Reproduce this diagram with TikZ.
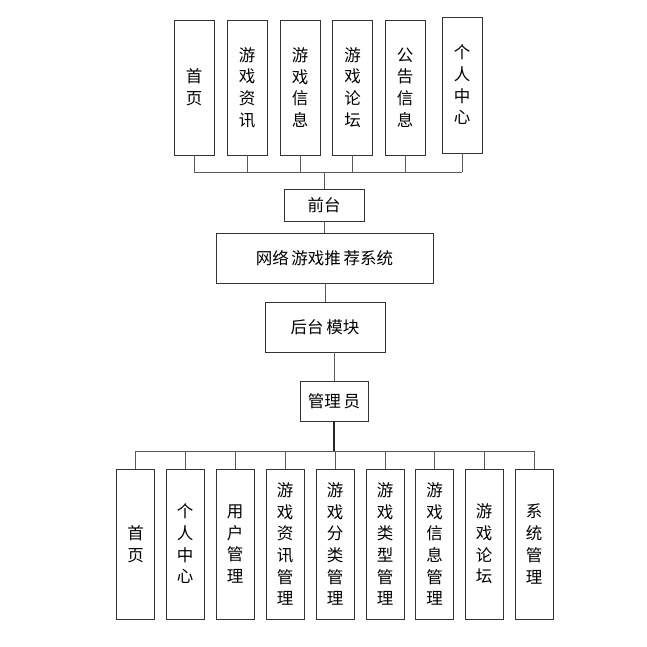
\documentclass[tikz,border=0pt]{standalone}
\usepackage{fontspec}
\setmainfont{Noto Sans CJK SC}
\begin{document}
\begin{tikzpicture}[x=1pt,y=-1pt,
  box/.style={draw=black!80, line width=0.9pt, fill=white, inner sep=0pt, text=black, font=\fontsize{16.5}{21.7}\selectfont},
  vbox/.style={box, minimum width=40pt, text width=20pt, align=center},
  hbox/.style={box, minimum height=32pt},
  link/.style={draw=black!65, line width=0.8pt}]
\useasboundingbox (0,0) rectangle (647,647);
% top row
\node[vbox, minimum height=135pt] (t1) at (194,87.5) {首\\页};
\node[vbox, minimum height=135pt] (t2) at (247,87.5) {游\\戏\\资\\讯};
\node[vbox, minimum height=135pt] (t3) at (300,87.5) {游\\戏\\信\\息};
\node[vbox, minimum height=135pt] (t4) at (352.5,87.5) {游\\戏\\论\\坛};
\node[vbox, minimum height=135pt] (t5) at (405,87.5) {公\\告\\信\\息};
\node[vbox, minimum height=136pt] (t6) at (462,85) {个\\人\\中\\心};
\coordinate (topbus) at (325,172);
% middle
\node[hbox, minimum width=80pt] (qt) at (324,205) {前台};
\node[box, minimum width=217pt, minimum height=50pt] (sys) at (324.5,258) {网络\,游戏推\,荐系统};
\node[box, minimum width=120pt, minimum height=50pt] (hm) at (325,327) {后台\,模块};
\node[box, minimum width=68pt, minimum height=40pt] (gl) at (334,401) {管理\,员};
\coordinate (botbus) at (334,451);
% bottom row
\node[vbox, minimum height=150pt, minimum width=38pt] (b1) at (135.5,544) {首\\页};
\node[vbox, minimum height=150pt, minimum width=38pt] (b2) at (185,544) {个\\人\\中\\心};
\node[vbox, minimum height=150pt, minimum width=38pt] (b3) at (235,544) {用\\户\\管\\理};
\node[vbox, minimum height=150pt, minimum width=38pt] (b4) at (285,544) {游\\戏\\资\\讯\\管\\理};
\node[vbox, minimum height=150pt, minimum width=38pt] (b5) at (335,544) {游\\戏\\分\\类\\管\\理};
\node[vbox, minimum height=150pt, minimum width=38pt] (b6) at (385,544) {游\\戏\\类\\型\\管\\理};
\node[vbox, minimum height=150pt, minimum width=38pt] (b7) at (434.5,544) {游\\戏\\信\\息\\管\\理};
\node[vbox, minimum height=150pt, minimum width=38pt] (b8) at (484,544) {游\\戏\\论\\坛};
\node[vbox, minimum height=150pt, minimum width=38pt] (b9) at (534,544) {系\\统\\管\\理};
% top connectors
\foreach \n in {t1,t2,t3,t4,t5,t6} {\draw[link] (\n.south) -- (\n.south |- topbus);}
\draw[link] (t1.south |- topbus) -- (t6.south |- topbus);
\draw[link] (qt.north) -- (qt.north |- topbus);
\draw[link] (qt.south) -- (qt.south |- sys.north);
\draw[link] (hm.north) -- (hm.north |- sys.south);
\draw[link] (gl.north) -- (gl.north |- hm.south);
% bottom connectors
\draw[link, line width=1.2pt, draw=black!85] (gl.south) -- (botbus);
\draw[link] (b1.north |- botbus) -- (b9.north |- botbus);
\foreach \n in {b1,b2,b3,b4,b5,b6,b7,b8,b9} {\draw[link] (\n.north) -- (\n.north |- botbus);}
\end{tikzpicture}
\end{document}
